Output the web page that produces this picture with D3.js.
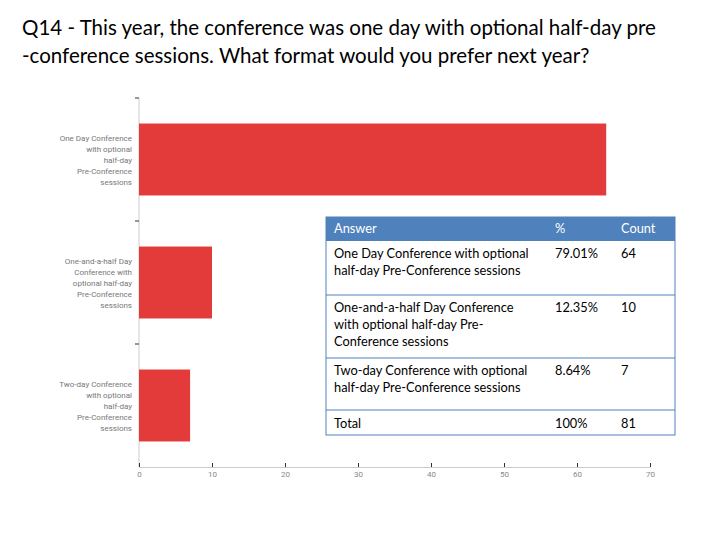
<!DOCTYPE html>
<html>
<head>
<meta charset="utf-8">
<script src="https://cdn.jsdelivr.net/npm/d3@7"></script>
<style>
  body { margin: 0; background: #fff; }
</style>
</head>
<body>
<script>
// answers as shown on the bar chart (multiline labels)
var categories = ["One Day Conference with optional half-day Pre-Conference sessions",
    "One-and-a-half Day Conference with optional half-day Pre-Conference sessions",
    "Two-day Conference with optional half-day Pre-Conference sessions"];
var labelLines = [
    ["One Day Conference", "with optional", "half-day", "Pre-Conference", "sessions"],
    ["One-and-a-half Day", "Conference with", "optional half-day", "Pre-Conference", "sessions"],
    ["Two-day Conference", "with optional", "half-day", "Pre-Conference", "sessions"]];
var counts = [64, 10, 7];
var percents = ["79.01%", "12.35%", "8.64%"];
var xTicks = [0, 10, 20, 30, 40, 50, 60, 70];
var tableRows = [
    ["One Day Conference with optional", "half-day Pre-Conference sessions"],
    ["One-and-a-half Day Conference", "with optional half-day Pre-", "Conference sessions"],
    ["Two-day Conference with optional", "half-day Pre-Conference sessions"]];
var total = ["Total", "100%", "81"];

var W = 720, H = 540;
var svg = d3.select("body").append("svg")
    .attr("width", W).attr("height", H);

// title
var title = svg.append("text")
    .attr("font-family", "Lato, sans-serif")
    .attr("font-size", "20.5px")
    .attr("fill", "#000");
title.append("tspan").attr("x", 22).attr("y", 35)
    .text("Q14 - This year, the conference was one day with optional half-day pre");
title.append("tspan").attr("x", 22).attr("y", 63)
    .text("-conference sessions. What format would you prefer next year?");

var pLeft = 139, pRight = 650, pTop = 98, pBottom = 467;

var x = d3.scaleLinear().domain([0, 70]).range([pLeft, pRight]);
var y = d3.scaleBand().domain(categories).range([pTop, pBottom])
    .paddingInner(0.415).paddingOuter(0.2075);

// y axis line
svg.append("line")
    .attr("x1", pLeft).attr("x2", pLeft)
    .attr("y1", pTop).attr("y2", pBottom)
    .attr("stroke", "#ccc");

// small dark ticks at category boundaries
var step = y.step();
svg.selectAll(".ytick")
    .data(categories)
    .enter().append("line")
    .attr("x1", pLeft - 4).attr("x2", pLeft)
    .attr("y1", function(d) { return y(d) - y.paddingOuter() * step; })
    .attr("y2", function(d) { return y(d) - y.paddingOuter() * step; })
    .attr("stroke", "#333");

// bars
svg.selectAll(".bar")
    .data(categories)
    .enter().append("rect")
    .attr("x", x(0))
    .attr("y", function(d) { return y(d); })
    .attr("width", function(d, i) { return x(counts[i]) - x(0); })
    .attr("height", y.bandwidth())
    .attr("fill", "#e33a3a");

// category labels
var lab = svg.selectAll(".lab")
    .data(categories)
    .enter().append("text")
    .attr("text-anchor", "end")
    .attr("font-family", "Roboto, sans-serif")
    .attr("font-size", "8px")
    .attr("fill", "#777");
lab.each(function(d, i) {
    var t = d3.select(this);
    var lines = labelLines[i];
    var cy = y(d) + y.bandwidth() / 2;
    lines.forEach(function(l, j) {
        t.append("tspan")
            .attr("x", pLeft - 7)
            .attr("y", cy + (j - (lines.length - 1) / 2) * 11 + 3)
            .text(l);
    });
});

// x axis
var xAxis = svg.append("g")
    .attr("transform", "translate(0," + pBottom + ")")
    .call(d3.axisBottom(x).tickValues(xTicks).tickSize(5).tickSizeOuter(0));
xAxis.select(".domain").attr("stroke", "#ccc");
xAxis.selectAll(".tick line").attr("stroke", "#333").attr("y1", -4).attr("y2", 0);
xAxis.selectAll(".tick text")
    .attr("y", 4)
    .attr("font-family", "Roboto, sans-serif")
    .attr("font-size", "8px")
    .attr("fill", "#888");

// table
var tx = 326, tw = 349;
var rowTops = [217, 241, 295, 358, 410, 435];
var colX = [334, 555, 621];
var blue = "#4f81bd";
var tbl = svg.append("g")
    .attr("font-family", "Lato, sans-serif")
    .attr("font-size", "12.8px");

tbl.append("rect")
    .attr("x", tx).attr("y", rowTops[0])
    .attr("width", tw).attr("height", rowTops[5] - rowTops[0])
    .attr("fill", "#fff").attr("stroke", blue);
tbl.append("rect")
    .attr("x", tx).attr("y", rowTops[0])
    .attr("width", tw).attr("height", rowTops[1] - rowTops[0])
    .attr("fill", blue);
["Answer", "%", "Count"].forEach(function(h, i) {
    tbl.append("text").attr("x", colX[i]).attr("y", rowTops[0] + 16)
        .attr("fill", "#fff").text(h);
});

for (var r = 2; r < 5; r++) {
    tbl.append("line")
        .attr("x1", tx).attr("x2", tx + tw)
        .attr("y1", rowTops[r]).attr("y2", rowTops[r])
        .attr("stroke", blue);
}

tableRows.forEach(function(lines, i) {
    var yy = rowTops[i + 1] + 17;
    lines.forEach(function(l, j) {
        tbl.append("text").attr("x", colX[0]).attr("y", yy + j * 17)
            .attr("fill", "#000").text(l);
    });
    tbl.append("text").attr("x", colX[1]).attr("y", yy).attr("fill", "#000").text(percents[i]);
    tbl.append("text").attr("x", colX[2]).attr("y", yy).attr("fill", "#000").text(counts[i]);
});
total.forEach(function(v, i) {
    tbl.append("text").attr("x", colX[i]).attr("y", rowTops[4] + 18)
        .attr("fill", "#000").text(v);
});
</script>
</body>
</html>
